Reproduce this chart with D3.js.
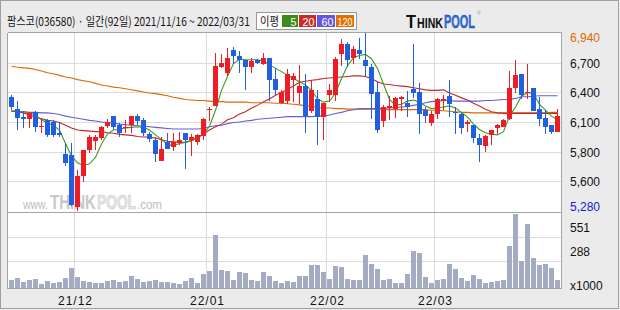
<!DOCTYPE html>
<html>
<head>
<meta charset="utf-8">
<script src="https://cdn.jsdelivr.net/npm/d3@7"></script>
<style>
  body { margin: 0; background: #ebebeb; }
  svg text { font-family: "Liberation Sans", Arial, sans-serif; }
</style>
</head>
<body>
<div id="chart"></div>
<script>
// trading days shown (92)
const dates = [
  '2021/11/16','2021/11/17','2021/11/18','2021/11/19','2021/11/22','2021/11/23','2021/11/24','2021/11/25','2021/11/26','2021/11/29','2021/11/30',
  '2021/12/01','2021/12/02','2021/12/03','2021/12/06','2021/12/07','2021/12/08','2021/12/09','2021/12/10','2021/12/13','2021/12/14','2021/12/15',
  '2021/12/16','2021/12/17','2021/12/20','2021/12/21','2021/12/22','2021/12/23','2021/12/24','2021/12/27','2021/12/28','2021/12/29','2021/12/30',
  '2022/01/03','2022/01/04','2022/01/05','2022/01/06','2022/01/07','2022/01/10','2022/01/11','2022/01/12','2022/01/13','2022/01/14',
  '2022/01/17','2022/01/18','2022/01/19','2022/01/20','2022/01/21','2022/01/24','2022/01/25','2022/01/26','2022/01/27','2022/01/28',
  '2022/02/03','2022/02/04','2022/02/07','2022/02/08','2022/02/09','2022/02/10','2022/02/11','2022/02/14','2022/02/15','2022/02/16',
  '2022/02/17','2022/02/18','2022/02/21','2022/02/22','2022/02/23','2022/02/24','2022/02/25','2022/02/28',
  '2022/03/02','2022/03/03','2022/03/04','2022/03/07','2022/03/08','2022/03/10','2022/03/11','2022/03/14','2022/03/15','2022/03/16',
  '2022/03/17','2022/03/18','2022/03/21','2022/03/22','2022/03/23','2022/03/24','2022/03/25','2022/03/28','2022/03/29','2022/03/30','2022/03/31'
];

const open = [
  6340,6230,6160,6140,6200,6060,6130,6110,6010,5810,
  5800,5320,5610,5850,5930,5960,6070,6170,6080,6050,
  6080,6170,6130,6000,5940,5750,5920,5880,5910,6010,
  5940,5920,5980,6220,6260,6620,6570,6780,6730,6690,
  6620,6690,6650,6710,6510,6290,6310,6500,6380,6450,
  6210,6320,6160,6360,6360,6740,6840,6710,6780,6690,
  6620,6390,6120,6240,6230,6320,6290,6420,6390,6220,
  6100,6180,6310,6350,6200,6180,6090,6080,5960,5890,
  5990,6050,6060,6140,6430,6560,6380,6430,6230,6150,
  6080,6020
];
const high = [
  6360,6310,6210,6200,6210,6150,6140,6130,6100,5910,
  5910,5660,5850,5990,5990,6070,6140,6170,6100,6130,
  6170,6180,6150,6020,5970,5970,6010,6010,6020,6010,
  6000,6000,6150,6250,6750,6740,6800,6810,6770,6690,
  6710,6700,6750,6710,6610,6410,6600,6570,6640,6560,
  6500,6410,6290,6460,6720,6880,6860,6820,6890,6940,
  6650,6480,6270,6350,6340,6350,6400,6840,6470,6250,
  6210,6330,6360,6500,6250,6190,6130,6080,6000,5990,
  6040,6090,6140,6590,6690,6560,6650,6430,6340,6220,
  6080,6230
];
const low = [
  6220,6040,6050,6050,6020,6010,5970,5970,5970,5700,
  5330,5280,5550,5820,5850,5940,6050,6040,5970,6010,
  6010,6080,5980,5920,5740,5750,5860,5840,5900,5670,
  5790,5900,5940,6120,6260,6610,6540,6650,6570,6410,
  6570,6650,6640,6310,6360,6280,6280,6300,6280,6010,
  6190,5900,5940,6300,6310,6630,6620,6650,6700,6540,
  6140,6010,6060,6130,6150,6210,6160,6330,6000,6100,
  6070,6140,6220,6160,6000,6000,6020,5910,5735,5830,
  5900,6000,6060,6130,6380,6320,6320,6210,6070,6000,
  6000,6020
];
const close = [
  6250,6150,6140,6190,6060,6070,5990,5990,5990,5730,
  5340,5610,5850,5970,5970,6060,6110,6060,6010,6060,
  6170,6120,6010,5950,5810,5860,5860,5920,5940,5940,
  5970,5990,6140,6230,6630,6660,6710,6730,6690,6620,
  6680,6660,6710,6500,6410,6390,6560,6540,6450,6170,
  6410,6160,6290,6410,6700,6840,6690,6790,6740,6630,
  6370,6040,6250,6260,6330,6340,6250,6380,6180,6170,
  6180,6320,6320,6280,6190,6050,6110,5960,5900,5980,
  6040,6080,6130,6430,6550,6360,6390,6210,6140,6060,
  6020,6170
];
// volume in thousands of shares
const volume = [
  86,108,65,86,97,43,76,54,65,108,
  216,119,76,65,54,54,79,86,65,76,
  130,97,68,76,86,65,65,54,43,76,
  108,54,151,184,572,194,184,86,173,162,
  86,76,173,130,76,57,76,65,130,130,
  248,248,173,97,238,227,97,86,86,356,
  259,205,86,97,54,54,151,400,378,119,
  54,86,97,259,205,108,76,140,97,57,
  65,76,86,454,799,292,691,324,248,259,
  216,86
];

// moving averages as drawn on the chart
const ma5 = [
  6215,6210,6205,6195,6175,6130,6100,6075,6035,5910,
  5795,5730,5705,5720,5780,5905,6000,6035,6040,6055,
  6060,6065,6060,6035,5990,5945,5900,5890,5910,5920,
  5940,5955,6000,6070,6220,6405,6535,6655,6695,6690,
  6690,6690,6680,6645,6610,6580,6545,6515,6485,6455,
  6405,6325,6295,6305,6380,6515,6635,6710,6730,6740,
  6700,6610,6465,6320,6265,6275,6305,6315,6295,6260,
  6235,6240,6250,6260,6240,6200,6155,6090,6040,6010,
  5995,5990,6020,6165,6250,6350,6385,6375,6275,6220,
  6165,6130
];
const ma20 = [
  6210,6205,6195,6175,6155,6140,6125,6120,6105,6080,
  6055,6035,6030,6025,6020,6020,6010,6005,5995,5990,
  5985,5975,5970,5970,5960,5945,5930,5925,5920,5920,
  5935,5965,6000,6035,6065,6090,6130,6150,6185,6205,
  6240,6265,6300,6325,6360,6385,6415,6445,6480,6490,
  6500,6505,6515,6520,6525,6530,6535,6540,6540,6535,
  6515,6485,6465,6460,6450,6445,6440,6430,6420,6410,
  6405,6405,6410,6380,6360,6335,6315,6285,6260,6230,
  6205,6195,6190,6190,6190,6190,6190,6190,6190,6190,
  6190,6190
];
const ma60 = [
  6210,6210,6205,6200,6200,6195,6195,6190,6180,6165,
  6155,6145,6135,6125,6120,6110,6105,6100,6090,6085,
  6080,6075,6070,6065,6060,6055,6050,6045,6045,6045,
  6045,6045,6050,6065,6075,6080,6095,6105,6110,6120,
  6125,6135,6140,6145,6150,6155,6160,6160,6160,6160,
  6160,6165,6165,6175,6190,6200,6215,6225,6235,6235,
  6235,6235,6240,6240,6245,6250,6255,6265,6275,6290,
  6300,6305,6310,6310,6305,6305,6305,6305,6305,6310,
  6310,6315,6320,6320,6330,6345,6345,6350,6355,6355,
  6355,6355
];
const ma120 = [
  6630,6620,6615,6610,6600,6585,6570,6560,6545,6530,
  6520,6505,6495,6485,6470,6455,6445,6435,6430,6420,
  6410,6400,6390,6380,6375,6365,6355,6340,6330,6320,
  6315,6310,6310,6305,6300,6300,6295,6295,6295,6295,
  6290,6290,6290,6290,6285,6285,6280,6275,6270,6260,
  6255,6245,6240,6240,6235,6235,6230,6230,6230,6230,
  6230,6230,6230,6225,6225,6225,6225,6225,6225,6225,
  6220,6220,6215,6210,6205,6200,6200,6195,6195,6195,
  6195,6195,6195,6195,6195,6195,6195,6195,6195,6195,
  6200,6200
];

const maPeriods = [5, 20, 60, 120];
const volTicks = [551, 288];
const title = '팜스코(036580) · 일간(92일) 2021/11/16 ~ 2022/03/31';

const W = 620, H = 310;
const frame = { left: 7.5, right: 561.5, top: 32.5, split: 212.5, bottom: 288.5 };
const upColor = '#ee1c24', downColor = '#1f5fe0';
const maColors = ['#3c9a1e', '#c0282a', '#6a5ad8', '#dc6a00'];
const legendColors = ['#3c8c1c', '#cc2a2a', '#6655dd', '#e07000'];

const svg = d3.select('#chart').append('svg')
  .attr('width', W)
  .attr('height', H)
  .style('display', 'block');

// squeeze a text horizontally so it spans exactly `w` pixels
function fitText(parent, str, px, py, w, size, opts = {}) {
  const t = parent.append('text')
    .attr('font-size', size)
    .attr('font-weight', opts.bold ? 'bold' : 'normal')
    .attr('fill', opts.fill || '#111')
    .text(str);
  if (opts.family) t.style('font-family', opts.family);
  if (opts.stroke) t.attr('stroke', opts.stroke).attr('stroke-width', opts.strokeWidth || 0.5);
  const len = t.node().getComputedTextLength() || w;
  t.attr('transform', `translate(${px},${py}) scale(${w / len},1)`);
  return t;
}

svg.append('rect').attr('width', W).attr('height', H).attr('fill', '#ebebeb');
svg.append('rect')
  .attr('x', 0.5).attr('y', 0.5)
  .attr('width', W - 2).attr('height', H - 2)
  .attr('fill', 'none').attr('stroke', '#a0a0a0');

// plot background
svg.append('rect')
  .attr('x', frame.left).attr('y', frame.top)
  .attr('width', frame.right - frame.left).attr('height', frame.bottom - frame.top)
  .attr('fill', '#fff');

// scales
const x = d3.scaleBand().domain(dates).range([8.5, 560.5]);
const cx = d => x(d) + x.bandwidth() / 2;
const pMin = d3.min(low), pMax = d3.max(high);
const yP = d3.scaleLinear().domain([pMin, pMax]).range([211, 33]);
const yV = d3.scaleLinear().domain([0, 821]).range([288, 212]);

const candles = dates.map((d, i) => ({
  date: d, o: open[i], h: high[i], l: low[i], c: close[i], v: volume[i]
}));

// gridlines
const priceGrid = d3.range(1, 6).map(k => pMin + (pMax - pMin) * k / 6);
const grid = svg.append('g').attr('stroke', '#dcdcdc').attr('shape-rendering', 'crispEdges');
priceGrid.forEach(v => {
  const yy = Math.round(yP(v)) + 0.5;
  grid.append('line').attr('x1', frame.left).attr('x2', frame.right).attr('y1', yy).attr('y2', yy);
});
volTicks.forEach(v => {
  const yy = Math.round(yV(v)) + 0.5;
  grid.append('line').attr('x1', frame.left).attr('x2', frame.right).attr('y1', yy).attr('y2', yy);
});
const monthStarts = dates.filter((d, i) => i > 0 && d.slice(5, 7) !== dates[i - 1].slice(5, 7));
monthStarts.forEach(d => {
  grid.append('line').attr('x1', x(d)).attr('x2', x(d)).attr('y1', frame.top).attr('y2', frame.bottom);
});

// watermark
const wm = svg.append('g');
fitText(wm, 'www.', 23, 209, 25, 13, { fill: '#bdbdbd' });
fitText(wm, 'THINK', 50, 209, 46, 21, { fill: '#c8c8c8', bold: true });
fitText(wm, 'POOL', 97, 209, 39, 21, { fill: '#e6e6e6', bold: true, stroke: '#cdcdcd', strokeWidth: 0.7 });
fitText(wm, '.com', 137, 209, 25, 13, { fill: '#bdbdbd' });

// frame lines
const fr = svg.append('g').attr('stroke', '#a4a4a4').attr('shape-rendering', 'crispEdges');
fr.append('line').attr('x1', frame.left).attr('x2', frame.right).attr('y1', frame.top).attr('y2', frame.top);
fr.append('line').attr('x1', frame.left).attr('x2', frame.right).attr('y1', frame.split).attr('y2', frame.split);
fr.append('line').attr('x1', frame.left).attr('x2', frame.right).attr('y1', frame.bottom).attr('y2', frame.bottom);
fr.append('line').attr('x1', frame.left).attr('x2', frame.left).attr('y1', frame.top).attr('y2', frame.bottom);
fr.append('line').attr('x1', frame.right).attr('x2', frame.right).attr('y1', frame.top).attr('y2', frame.bottom);

// volume bars
svg.append('g').selectAll('rect')
  .data(candles)
  .enter()
  .append('rect')
  .attr('x', d => x(d.date) + 0.5)
  .attr('y', d => yV(d.v))
  .attr('width', x.bandwidth() - 1)
  .attr('height', d => yV(0) - yV(d.v))
  .attr('fill', '#a3acc3')
  .attr('shape-rendering', 'crispEdges');

// moving average lines
[ma120, ma60, ma20, ma5].forEach((series, k) => {
  const line = d3.line()
    .x((v, i) => cx(dates[i]))
    .y(v => yP(v));
  svg.append('path')
    .datum(series)
    .attr('fill', 'none')
    .attr('stroke', maColors[3 - k])
    .attr('stroke-width', 1.1)
    .attr('d', line);
});

// candles
const cg = svg.append('g').attr('shape-rendering', 'crispEdges');
const col = d => d.c >= d.o ? upColor : downColor;
cg.selectAll('line')
  .data(candles)
  .enter()
  .append('line')
  .attr('x1', d => cx(d.date))
  .attr('x2', d => cx(d.date))
  .attr('y1', d => yP(d.h))
  .attr('y2', d => yP(d.l))
  .attr('stroke', col);
cg.selectAll('rect')
  .data(candles)
  .enter()
  .append('rect')
  .attr('x', d => x(d.date) + 0.5)
  .attr('y', d => yP(Math.max(d.o, d.c)))
  .attr('width', x.bandwidth() - 1)
  .attr('height', d => Math.max(1, Math.abs(yP(d.o) - yP(d.c))))
  .attr('fill', col);

// right axis labels
const fmt = d3.format(',');
const axisX = 570;
const labels = svg.append('g').style('font-size', '12px');
labels.append('text').attr('x', axisX).attr('y', 42).attr('fill', '#dc6a00').text(fmt(pMax));
priceGrid.forEach(v => {
  labels.append('text')
    .attr('x', axisX)
    .attr('y', yP(v) + 5)
    .attr('fill', '#111')
    .text(fmt(Math.round(v / 100) * 100));
});
labels.append('text').attr('x', axisX).attr('y', 211).attr('fill', '#1a1acc').text(fmt(pMin));
volTicks.forEach(v => {
  labels.append('text').attr('x', axisX).attr('y', yV(v) - 5).attr('fill', '#111').text(v);
});
labels.append('text').attr('x', axisX).attr('y', 290).attr('fill', '#111').text('x1000');

// month labels
svg.append('g').style('font-size', '12px').style('letter-spacing', '1px')
  .selectAll('text')
  .data(monthStarts)
  .enter()
  .append('text')
  .attr('x', d => x(d) + 1)
  .attr('y', 305)
  .attr('text-anchor', 'middle')
  .attr('fill', '#111')
  .text(d => d.slice(2, 4) + '/' + d.slice(5, 7));

// header
const cjk = '"Noto Sans CJK KR", sans-serif';
fitText(svg, title, 7, 26, 243, 12, { family: cjk });

// MA legend
const lg = svg.append('g');
lg.append('rect')
  .attr('x', 256.5).attr('y', 12.5).attr('width', 100).attr('height', 17)
  .attr('fill', '#fff').attr('stroke', '#999');
fitText(lg, '이평', 260, 26, 19, 12, { family: cjk });
const boxW = [16, 17, 18, 18];
let bx = 282;
maPeriods.forEach((p, i) => {
  lg.append('rect')
    .attr('x', bx).attr('y', 15).attr('width', boxW[i]).attr('height', 12)
    .attr('fill', legendColors[i]);
  const s = String(p);
  const tw = Math.min(boxW[i] - 3, s.length * 6);
  fitText(lg, s, bx + boxW[i] - 1.5 - tw, 25.5, tw, 11, { fill: '#fff' });
  bx += boxW[i] + 1;
});

// logo
fitText(svg, 'T', 406, 28, 10, 19, { bold: true });
fitText(svg, 'HINK', 417, 28, 26, 15, { bold: true });
fitText(svg, 'POOL', 444, 28, 31, 19, { bold: true, fill: '#2a6ad8', stroke: '#1d4fa8', strokeWidth: 0.4 });
svg.append('text').attr('x', 477).attr('y', 15).style('font-size', '5px').attr('fill', '#999').text('®');
</script>
</body>
</html>
